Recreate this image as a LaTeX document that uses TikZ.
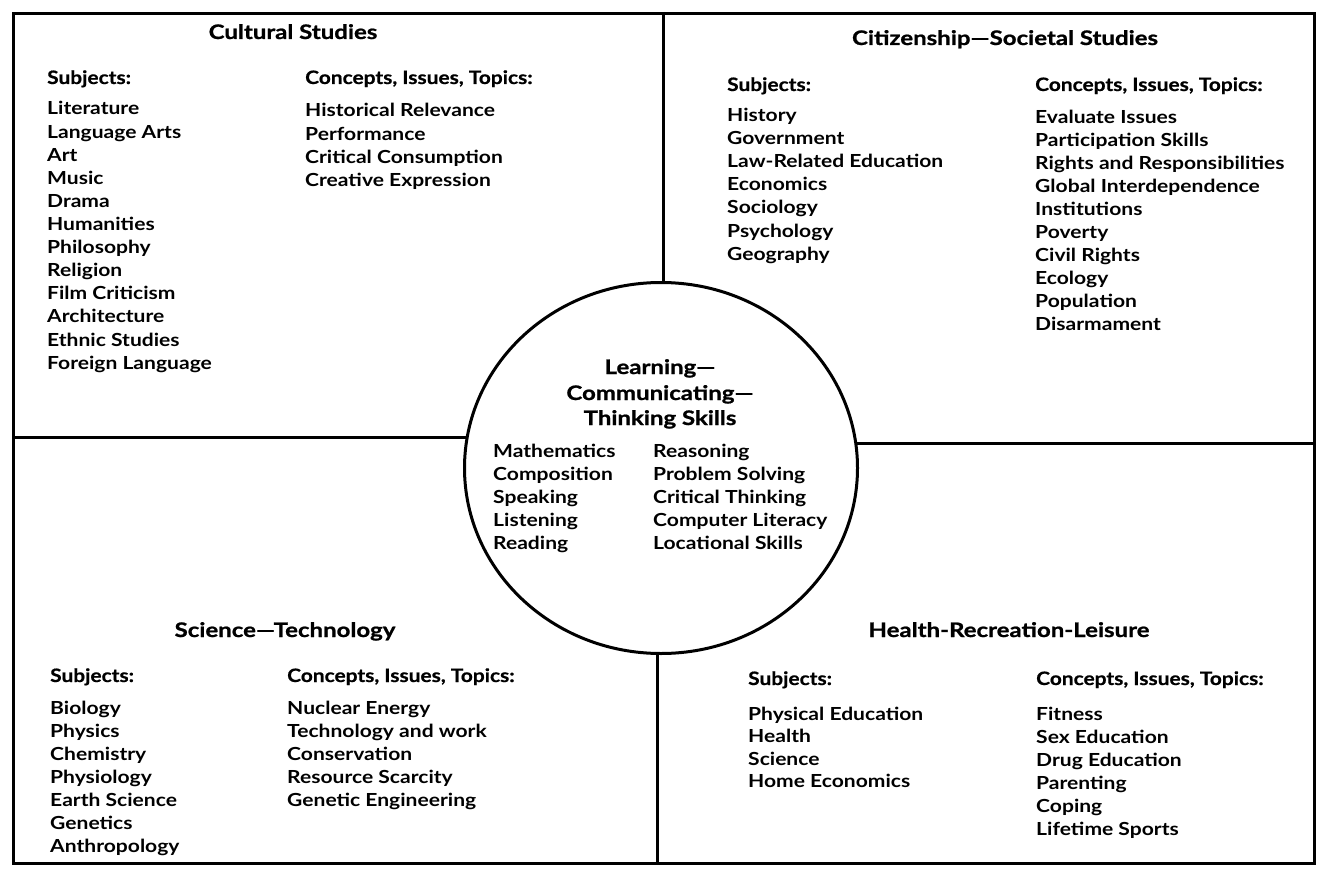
\documentclass[tikz,border=0pt]{standalone}
\usepackage{fontspec}
\setmainfont{Lato}
\newfontfamily\itemf{Lato}[Ligatures=TeX,FakeStretch=1.17]
\newfontfamily\headf{Lato}[Ligatures=TeX,FakeStretch=1.13,FakeBold=0.6]
\newfontfamily\titlef{Lato}[Ligatures=TeX,FakeStretch=1.2,FakeBold=1]
\usetikzlibrary{shapes.geometric}
\pgfdeclarelayer{bg}
\pgfsetlayers{bg,main}
\begin{document}
\begin{tikzpicture}[x=1pt,y=-1pt,
  rule/.style={line width=3pt},
  item/.style={anchor=base west, font=\itemf\bfseries\fontsize{18}{22}\selectfont, inner sep=0pt},
  head/.style={anchor=base west, font=\headf\bfseries\fontsize{18.5}{22}\selectfont, inner sep=0pt},
  title/.style={anchor=base, font=\titlef\bfseries\fontsize{20}{24}\selectfont, inner sep=0pt}]
\useasboundingbox (0,0) rectangle (1319,869);
% frame
\node[draw, rule, minimum width=1301pt, minimum height=850pt, anchor=north west, inner sep=0pt] (frame) at (12,12) {};
% hub
\node[ellipse, draw, rule, fill=white, minimum width=393pt, minimum height=371pt, inner sep=0pt] (hub) at (661,468) {};
\coordinate (dt) at (663,12);
\coordinate (db) at (657,862);
\coordinate (dl) at (12,437);
\coordinate (dr) at (1313,443);
\begin{pgfonlayer}{bg}
\draw[rule] (dt) -- (dt |- hub.center);
\draw[rule] (db) -- (db |- hub.center);
\draw[rule] (dl) -- (dl -| hub.center);
\draw[rule] (dr) -- (dr -| hub.center);
\end{pgfonlayer}
% Cultural Studies
\node[title] (t1) at (293,39) {Cultural Studies};
\node[head] (s1) at (47,84) {Subjects:};
\node[head] (c1) at (305,84) {Concepts, Issues, Topics:};
\foreach \t [count=\i] in {Literature, Language Arts, Art, Music, Drama, Humanities, Philosophy, Religion, Film Criticism, Architecture, Ethnic Studies, Foreign Language}
  \node[item] (s1i\i) at ({47},{115+23.1*(\i-1)}) {\t};
\foreach \t [count=\i] in {Historical Relevance, Performance, Critical Consumption, Creative Expression}
  \node[item] (c1i\i) at ({305},{117+23.3*(\i-1)}) {\t};
% Citizenship
\node[title] (t2) at (1005,45) {Citizenship—Societal Studies};
\node[head] (s2) at (727,91) {Subjects:};
\node[head] (c2) at (1035,91) {Concepts, Issues, Topics:};
\foreach \t [count=\i] in {History, Government, Law-Related Education, Economics, Sociology, Psychology, Geography}
  \node[item] (s2i\i) at ({727},{122+23*(\i-1)}) {\t};
\foreach \t [count=\i] in {Evaluate Issues, Participation Skills, Rights and Responsibilities, Global Interdependence, Institutions, Poverty, Civil Rights, Ecology, Population, Disarmament}
  \node[item] (c2i\i) at ({1035},{124+22.9*(\i-1)}) {\t};
% Science
\node[title] (t3) at (285,637) {Science—Technology};
\node[head] (s3) at (50,682) {Subjects:};
\node[head] (c3) at (287,682) {Concepts, Issues, Topics:};
\foreach \t [count=\i] in {Biology, Physics, Chemistry, Physiology, Earth Science, Genetics, Anthropology}
  \node[item] (s3i\i) at ({50},{714+23*(\i-1)}) {\t};
\foreach \t [count=\i] in {Nuclear Energy, Technology and work, Conservation, Resource Scarcity, Genetic Engineering}
  \node[item] (c3i\i) at ({287},{714+23*(\i-1)}) {\t};
% Health
\node[title] (t4) at (1009,637) {Health-Recreation-Leisure};
\node[head] (s4) at (748,685) {Subjects:};
\node[head] (c4) at (1036,685) {Concepts, Issues, Topics:};
\foreach \t [count=\i] in {Physical Education, Health, Science, Home Economics}
  \node[item] (s4i\i) at ({748},{720+22.5*(\i-1)}) {\t};
\foreach \t [count=\i] in {Fitness, Sex Education, Drug Education, Parenting, Coping, Lifetime Sports}
  \node[item] (c4i\i) at ({1036},{720+23*(\i-1)}) {\t};
% Hub text
\node[title] (h1) at (660,374) {Learning—};
\node[title] (h2) at (660,400) {Communicating—};
\node[title] (h3) at (660,425) {Thinking Skills};
\foreach \t [count=\i] in {Mathematics, Composition, Speaking, Listening, Reading}
  \node[item] (hl\i) at ({493},{457+23*(\i-1)}) {\t};
\foreach \t [count=\i] in {Reasoning, Problem Solving, Critical Thinking, Computer Literacy, Locational Skills}
  \node[item] (hr\i) at ({653},{457+23*(\i-1)}) {\t};
\end{tikzpicture}
\end{document}
